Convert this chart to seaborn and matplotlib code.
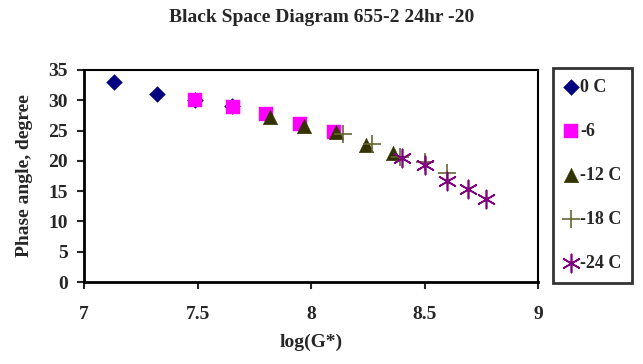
import numpy as np
import pandas as pd
import matplotlib
matplotlib.use("Agg")
import matplotlib.pyplot as plt
import seaborn as sns

# data
x_0 = [7.13, 7.32, 7.49, 7.65]
y_0 = [33.0, 31.0, 30.0, 29.0]
x_6 = [7.49, 7.655, 7.80, 7.95, 8.10]
y_6 = [30.0, 28.9, 27.8, 26.1, 24.8]
x_12 = [7.82, 7.97, 8.11, 8.24, 8.36]
y_12 = [27.2, 25.7, 24.8, 22.6, 21.3]
x_18 = [8.14, 8.27, 8.39, 8.50, 8.60]
y_18 = [24.4, 22.8, 20.6, 19.8, 18.0]
x_24 = [8.40, 8.50, 8.60, 8.69, 8.77]
y_24 = [20.5, 19.3, 16.7, 15.3, 13.7]
labels = ["0 C", "-6", "-12 C", "-18 C", "-24 C"]

series = [
    (x_0, y_0, "D", "#000080", 65, 0),
    (x_6, y_6, "s", "#FF00FF", 95, 0),
    (x_12, y_12, "^", "#333300", 110, 0),
    (x_18, y_18, "+", "#666633", 150, 1.2),
    (x_24, y_24, (6, 2, 0), "#800080", 170, 1.2),
]

sns.set_theme(style="white")
plt.rcParams["font.family"] = ["Liberation Serif", "DejaVu Serif"]
plt.rcParams["font.weight"] = "bold"

fig = plt.figure(figsize=(6.43, 3.64), dpi=100)
ax = fig.add_axes([0.131, 0.225, 0.706, 0.583])

for (xs, ys, m, c, s, lw), lab in zip(series, labels):
    df = pd.DataFrame({"x": xs, "y": ys})
    if lw:
        sns.scatterplot(data=df, x="x", y="y", marker=m, color=c, s=s,
                        linewidth=lw, ax=ax, label=lab)
    else:
        sns.scatterplot(data=df, x="x", y="y", marker=m, color=c, s=s,
                        edgecolor=c, linewidth=0.3, ax=ax, label=lab)

ax.set_xlim(7, 9); ax.set_ylim(0, 35)
ax.set_xticks([7, 7.5, 8, 8.5, 9])
ax.set_xticklabels(["7", "7.5", "8", "8.5", "9"])
ax.set_yticks(range(0, 36, 5))
for sp in ax.spines.values():
    sp.set_color("black"); sp.set_linewidth(1.5)
ax.spines["left"].set_linewidth(2.0)
ax.spines["bottom"].set_linewidth(2.0)
ax.tick_params(axis="y", left=True, length=5, width=1.5, labelsize=14, pad=7)
ax.tick_params(axis="x", bottom=True, length=5, width=1.5, labelsize=14, pad=12)
for t in ax.get_xticklabels() + ax.get_yticklabels():
    t.set_fontweight("bold")

ax.set_xlabel("log(G*)", fontsize=14, fontweight="bold", labelpad=8)
ax.set_ylabel("Phase angle, degree", fontsize=14, fontweight="bold", labelpad=11)
fig.suptitle("Black Space Diagram 655-2 24hr -20", fontsize=14, fontweight="bold",
             y=0.953, va="center")

leg = ax.legend(loc="upper left", bbox_to_anchor=(0.860, 0.813), bbox_transform=fig.transFigure,
                frameon=True, fancybox=False, edgecolor="black", handletextpad=0.1,
                labelspacing=1.5, borderpad=0.6, handlelength=0.8, borderaxespad=0,
                prop={"family": "Liberation Serif", "weight": "bold", "size": 13})
leg.get_frame().set_linewidth(2.0)

fig.savefig("out.png", dpi=100)
